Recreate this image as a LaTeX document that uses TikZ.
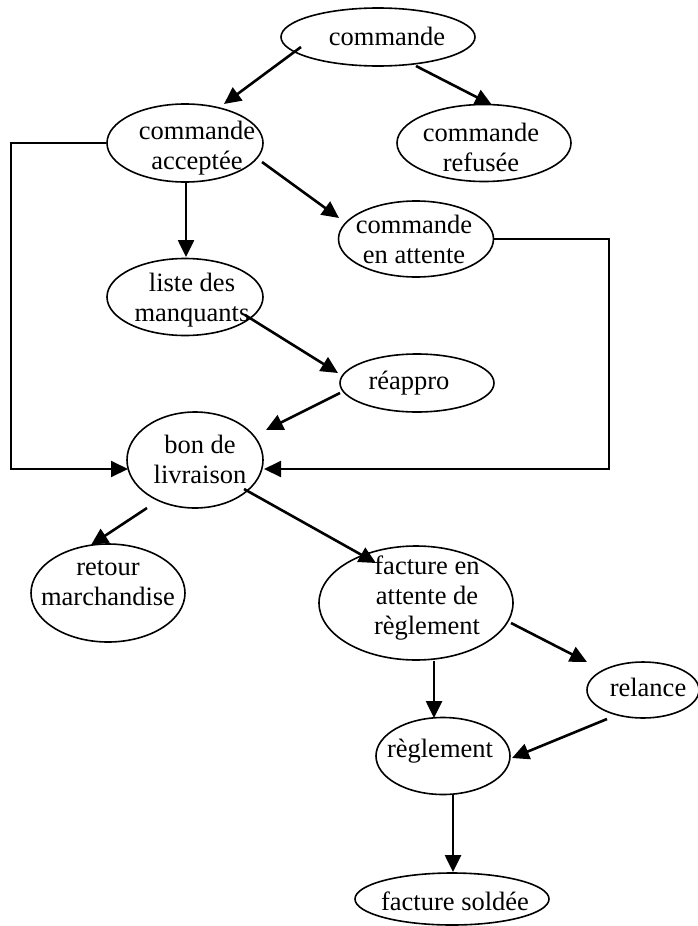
\documentclass[tikz,border=0pt]{standalone}
\usepackage{fontspec}
\setmainfont{Liberation Serif}
\usetikzlibrary{shapes.geometric,arrows.meta,calc}

\tikzset{
  state/.style={ellipse, draw, line width=1.6pt, inner sep=0pt},
  label text/.style={inner sep=0pt, align=center,
    font=\fontsize{26.5}{30}\selectfont},
  flow/.style={line width=2.6pt, -{Triangle[length=17pt,width=16pt]}},
  wire/.style={line width=2pt, -{Triangle[length=17pt,width=16pt]}}
}

\begin{document}
\begin{tikzpicture}[x=1pt, y=-1pt]
\useasboundingbox (0,0) rectangle (698,926);

% states
\node[state, minimum width=194pt, minimum height=58pt]  (cmd) at (378,37)  {};
\node[state, minimum width=156pt, minimum height=78pt]  (acc) at (185,143) {};
\node[state, minimum width=174pt, minimum height=77pt]  (ref) at (484,143) {};
\node[state, minimum width=155pt, minimum height=76pt]  (att) at (416,239) {};
\node[state, minimum width=156pt, minimum height=77pt]  (lst) at (185,297) {};
\node[state, minimum width=154pt, minimum height=58pt]  (rea) at (417,383) {};
\node[state, minimum width=136pt, minimum height=96pt]  (bon) at (195,460) {};
\node[state, minimum width=154pt, minimum height=98pt]  (ret) at (108,593) {};
\node[state, minimum width=194pt, minimum height=114pt] (fac) at (416,603) {};
\node[state, minimum width=112pt, minimum height=56pt]  (rel) at (643,690) {};
\node[state, minimum width=134pt, minimum height=77pt]  (reg) at (443,756) {};
\node[state, minimum width=194pt, minimum height=52pt]  (sol) at (452,899) {};

% labels
\node[label text] (cmdT) at (387,36)  {commande};
\node[label text] (accT) at (197,148) {commande\\acceptée};
\node[label text] (refT) at (481,147) {commande\\refusée};
\node[label text] (attT) at (414,239) {commande\\en attente};
\node[label text] (lstT) at (192,300) {liste des\\manquants};
\node[label text] (reaT) at (409,383) {réappro};
\node[label text] (bonT) at (200,459) {bon de\\livraison};
\node[label text] (retT) at (108,583) {retour\\marchandise};
\node[label text] (facT) at (427,598) {facture en\\attente de\\règlement};
\node[label text] (relT) at (648,687) {relance};
\node[label text] (regT) at (440,751) {règlement};
\node[label text] (solT) at (455,901) {facture soldée};

% transitions
\draw[flow] ($(cmd)+(-77,10)$) -- ($(acc)+(39,-39)$);
\draw[flow] ($(cmd)+(38,29)$)  -- ($(ref)+(8,-38)$);
\draw[flow] ($(acc)+(1,39)$)   -- ($(lst)+(1,-40)$);
\draw[flow] ($(acc)+(77,19)$)  -- ($(att)+(-77,-21)$);
\draw[flow] ($(lst)+(60,18)$)  -- ($(rea)+(-79,-10)$);
\draw[flow] ($(rea)+(-77,10)$) -- ($(bon)+(71,-30)$);
\draw[flow] ($(bon)+(-48,48)$) -- ($(ret)+(-17,-48)$);
\draw[flow] ($(bon)+(49,29)$)  -- ($(fac)+(-40,-40)$);
\draw[flow] ($(fac)+(95,20)$)  -- ($(rel)+(-56,-28)$);
\draw[flow] ($(fac)+(18,58)$)  -- ($(reg)+(-9,-38)$);
\draw[flow] ($(rel)+(-36,29)$) -- ($(reg)+(69,2)$);
\draw[flow] ($(reg)+(10,39)$)  -- ($(sol)+(1,-27)$);

% direct routes to the delivery note
\coordinate (lbend) at (11,143);
\coordinate (rbend) at (609,239);
\draw[wire] (acc.west) -- (lbend) |- ($(bon)+(-67,9)$);
\draw[wire] (att.east) -- (rbend) |- ($(bon)+(69,9)$);
\end{tikzpicture}
\end{document}
